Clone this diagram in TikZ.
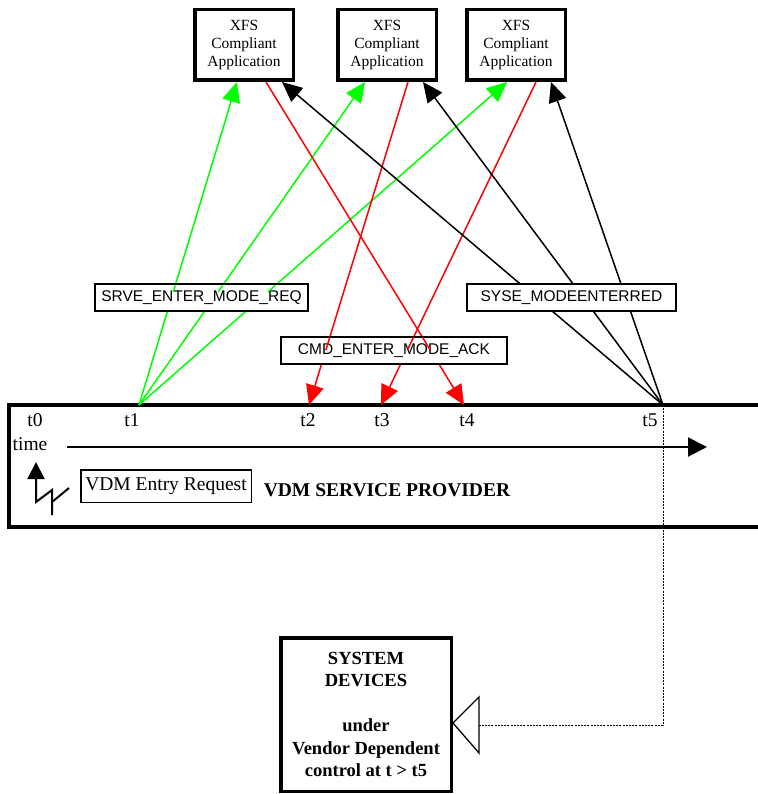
\documentclass[tikz,border=0pt]{standalone}
\usepackage{fontspec}
\setmainfont{Liberation Serif}
\newfontfamily\arialfont{Liberation Sans}
\usetikzlibrary{arrows.meta,calc}
\definecolor{vgreen}{RGB}{0,255,0}
\definecolor{vred}{RGB}{255,0,0}

\begin{document}
\begin{tikzpicture}[x=1pt,y=-1pt,
  app/.style={draw,line width=3.5pt,minimum width=98.5pt,minimum height=70.5pt,align=center,inner sep=0pt,font=\fontsize{15.5}{18}\selectfont},
  msg/.style={draw,line width=1.6pt,fill=white,minimum height=27.4pt,inner sep=0pt,font=\arialfont\fontsize{15.5}{18}\selectfont},
  tlabel/.style={inner sep=0pt,font=\fontsize{19.5}{22}\selectfont},
  gline/.style={vgreen,line width=1.5pt},
  rline/.style={vred,line width=1.5pt},
  kline/.style={black,line width=1.5pt},
  tip/.style={-{Triangle[length=20pt,width=18pt]}}]
\useasboundingbox (0,0) rectangle (757,794);

% applications
\node[app] (app1) at (244,45) {XFS\\Compliant\\Application};
\node[app] (app2) at (387,45) {XFS\\Compliant\\Application};
\node[app] (app3) at (516,45) {XFS\\Compliant\\Application};

\coordinate (g1) at ([xshift=-7pt]app1.south);
\coordinate (g2) at ([xshift=-22pt]app2.south);
\coordinate (g3) at ([xshift=-9pt]app3.south);
\coordinate (r1) at ([xshift=22pt]app1.south);
\coordinate (r2) at ([xshift=21pt]app2.south);
\coordinate (r3) at ([xshift=20pt]app3.south);
\coordinate (k1) at ([xshift=38pt]app1.south);
\coordinate (k2) at ([xshift=36pt]app2.south);
\coordinate (k3) at ([xshift=35pt]app3.south);

% service provider
\draw [line width=4pt] (9,405) rectangle (775,527);
\coordinate (t1) at (139,405);
\coordinate (t2) at (309,405);
\coordinate (t3) at (381,405);
\coordinate (t4) at (464,405);
\coordinate (t5) at (663,405);

\node[tlabel] (l0) at (35,420) {t0};
\node[tlabel] (l1) at (132,420) {t1};
\node[tlabel] (l2) at (308,420) {t2};
\node[tlabel] (l3) at (382,420) {t3};
\node[tlabel] (l4) at (467,420) {t4};
\node[tlabel] (l5) at (650,420) {t5};
\node[tlabel] (time) at (30,444) {time};
\draw [line width=2pt,-{Triangle[length=19pt,width=19pt]}] (67,447) -- (707,447);

\draw [line width=2pt,{Triangle[length=17pt,width=17pt]}-] (36,462) -- (36,502) -- (52,490) -- (52,515);
\draw [line width=2pt] (52,502) -- (69,488);
\node[draw,line width=1.5pt,minimum width=170.5pt,minimum height=32.5pt,inner sep=0pt,font=\fontsize{19.5}{22}\selectfont] (req) at (166,486) {VDM Entry Request};
\node[font=\bfseries\fontsize{19.5}{22}\selectfont] (vsp) at (387,490) {VDM SERVICE PROVIDER};

% events and commands
\draw [gline,tip] (t1) -- (g1);
\draw [gline,tip] (t1) -- (g2);
\draw [gline,tip] (t1) -- (g3);
\draw [rline,tip] (r2) -- (t2);
\draw [rline,tip] (r3) -- (t3);
\draw [rline,tip] (r1) -- (t4);
\draw [kline,tip] (t5) -- (k1);
\draw [kline,tip] (t5) -- (k2);
\draw [kline,tip] (t5) -- (k3);

\node[msg,minimum width=213.4pt] (srve) at (201.5,297.5) {SRVE\_ENTER\_MODE\_REQ};
\node[msg,minimum width=209.4pt] (syse) at (571.5,297.5) {SYSE\_MODEENTERRED};
\node[msg,minimum width=226.4pt] (cmd) at (394,350.5) {CMD\_ENTER\_MODE\_ACK};

\draw [gline] ($(t1)!0.35!(g1)$) -- ($(t1)!0.37!(g1)$);
\draw [gline] ($(t1)!0.35!(g2)$) -- ($(t1)!0.37!(g2)$);
\draw [gline] ($(t1)!0.35!(g3)$) -- ($(t1)!0.37!(g3)$);
\draw [rline] ($(r2)!0.79!(t2)$) -- ($(r2)!0.83!(t2)$);
\draw [rline] ($(r3)!0.79!(t3)$) -- ($(r3)!0.83!(t3)$);
\draw [rline] ($(r1)!0.79!(t4)$) -- ($(r1)!0.83!(t4)$);

% system devices
\node[draw,line width=3.5pt,minimum width=170.5pt,minimum height=153.5pt,align=center,inner sep=0pt,font=\bfseries\fontsize{18.5}{22.5}\selectfont] (sysdev) at (366,714.5) {SYSTEM\\DEVICES\\[22.5pt]under\\Vendor Dependent\\control at t > t5};
\coordinate (corner) at (663,725);
\coordinate (tribase) at (479,725);
\draw [line width=0.8pt,dash pattern=on 2pt off 1.2pt] (t5) -- (corner) -- (tribase);
\draw [line width=1.3pt,fill=white] (453,723) -- (479,697) -- (479,753) -- cycle;

\end{tikzpicture}
\end{document}
